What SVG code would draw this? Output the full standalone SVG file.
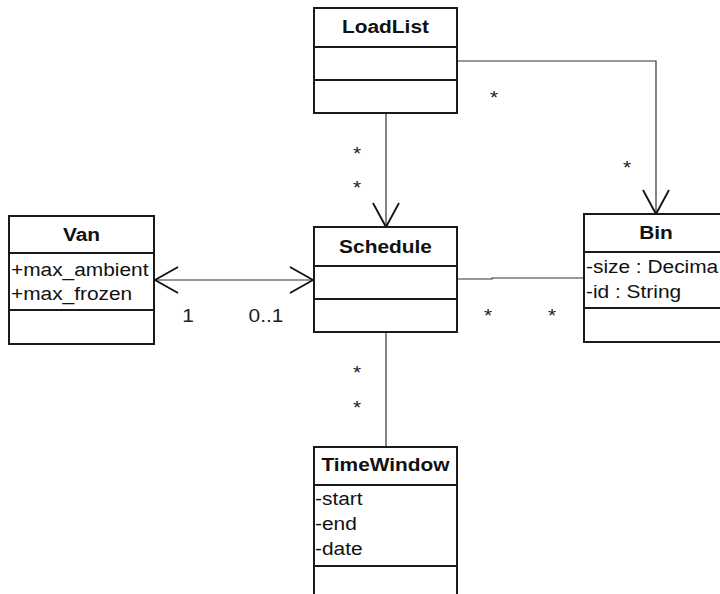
<svg xmlns="http://www.w3.org/2000/svg" width="720" height="594" viewBox="0 0 720 594">
  <style>
    .box { fill: #ffffff; stroke: #1a1a1a; stroke-width: 2; }
    .div { stroke: #1a1a1a; stroke-width: 2; fill: none; }
    .title { font-family: "Liberation Sans", Arial, sans-serif; font-size: 18px; font-weight: bold; fill: #111; text-anchor: middle; }
    .attr { font-family: "Liberation Sans", Arial, sans-serif; font-size: 18px; fill: #111; }
    .mult { font-family: "Liberation Sans", Arial, sans-serif; font-size: 18px; fill: #222; }
    .line { stroke: #333; stroke-width: 1.2; fill: none; }
    .head { stroke: #111; stroke-width: 1.8; fill: none; stroke-linejoin: miter; }
  </style>
  <rect x="0" y="0" width="720" height="594" fill="#ffffff"/>

  <!-- associations -->
  <g id="connectors">
    <!-- LoadList to Schedule -->
    <path class="line" d="M386 113 V227"/>
    <path class="head" d="M373 203 L386 227 L399 203"/>
    <text class="mult" transform="translate(357 160) scale(1.16 1)" text-anchor="middle">*</text>
    <text class="mult" transform="translate(357 194) scale(1.16 1)" text-anchor="middle">*</text>

    <!-- LoadList to Bin -->
    <path class="line" d="M457 61 H656 V214"/>
    <path class="head" d="M643 190 L656 214 L669 190"/>
    <text class="mult" transform="translate(494 104) scale(1.16 1)" text-anchor="middle">*</text>
    <text class="mult" transform="translate(627 174) scale(1.16 1)" text-anchor="middle">*</text>

    <!-- Van to Schedule -->
    <path class="line" d="M155 280 H313"/>
    <path class="head" d="M178 267 L155 280 L178 293"/>
    <path class="head" d="M290 267 L313 280 L290 293"/>
    <text class="mult" transform="translate(188 322) scale(1.16 1)" text-anchor="middle">1</text>
    <text class="mult" transform="translate(266 322) scale(1.16 1)" text-anchor="middle">0..1</text>

    <!-- Schedule to Bin -->
    <path class="line" d="M457 279 H492 V278 H584"/>
    <text class="mult" transform="translate(488 322) scale(1.16 1)" text-anchor="middle">*</text>
    <text class="mult" transform="translate(552 322) scale(1.16 1)" text-anchor="middle">*</text>

    <!-- Schedule to TimeWindow -->
    <path class="line" d="M386 332 V447"/>
    <text class="mult" transform="translate(357 379) scale(1.16 1)" text-anchor="middle">*</text>
    <text class="mult" transform="translate(357 414) scale(1.16 1)" text-anchor="middle">*</text>
  </g>

  <!-- LoadList class -->
  <g id="loadlist">
    <rect class="box" x="314" y="8" width="143" height="105"/>
    <path class="div" d="M314 47 H457 M314 80 H457"/>
    <text class="title" transform="translate(385.5 33) scale(1.16 1)">LoadList</text>
  </g>

  <!-- Van class -->
  <g id="van">
    <rect class="box" x="9" y="216" width="145" height="128"/>
    <path class="div" d="M9 253 H154 M9 310 H154"/>
    <text class="title" transform="translate(81.5 241) scale(1.16 1)">Van</text>
    <text class="attr" transform="translate(11 276) scale(1.16 1)">+max_ambient</text>
    <text class="attr" transform="translate(11 300) scale(1.16 1)">+max_frozen</text>
  </g>

  <!-- Schedule class -->
  <g id="schedule">
    <rect class="box" x="314" y="227" width="143" height="105"/>
    <path class="div" d="M314 266 H457 M314 299 H457"/>
    <text class="title" transform="translate(385.5 253) scale(1.16 1)">Schedule</text>
  </g>

  <!-- Bin class -->
  <g id="bin">
    <rect class="box" x="584" y="214" width="144" height="128"/>
    <path class="div" d="M584 252 H728 M584 308 H728"/>
    <text class="title" transform="translate(656 239) scale(1.16 1)">Bin</text>
    <text class="attr" transform="translate(586 273) scale(1.16 1)">-size : Decima</text>
    <text class="attr" transform="translate(586 298) scale(1.16 1)">-id : String</text>
  </g>

  <!-- TimeWindow class -->
  <g id="timewindow">
    <rect class="box" x="314" y="447" width="143" height="160"/>
    <path class="div" d="M314 485 H457 M314 566 H457"/>
    <text class="title" transform="translate(385.5 471) scale(1.16 1)">TimeWindow</text>
    <text class="attr" transform="translate(315 505) scale(1.16 1)">-start</text>
    <text class="attr" transform="translate(315 530) scale(1.16 1)">-end</text>
    <text class="attr" transform="translate(315 555) scale(1.16 1)">-date</text>
  </g>
</svg>
